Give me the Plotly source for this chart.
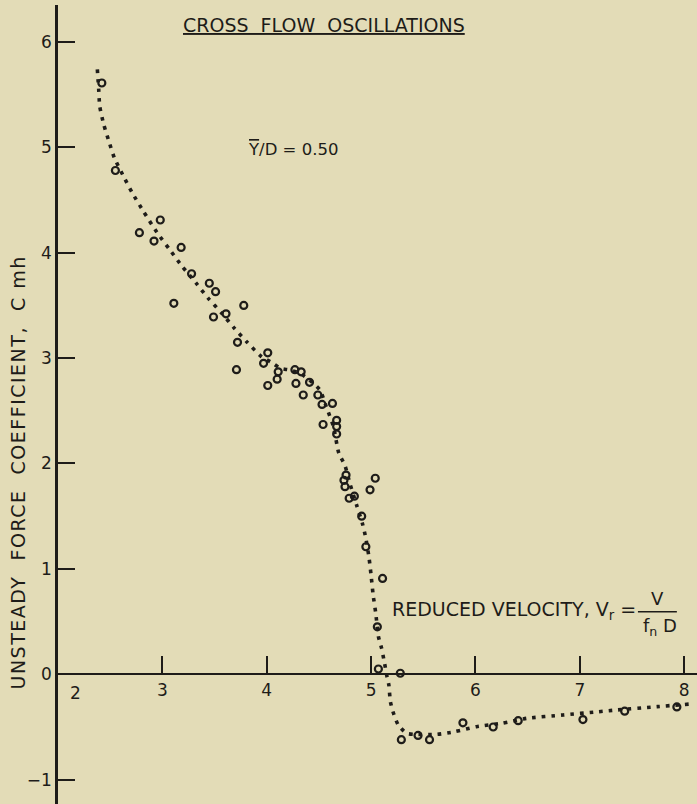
import plotly.graph_objects as go

# Observed data (open circles)
x_obs = [2.42, 2.55, 2.78, 2.92, 2.98, 3.11, 3.18, 3.28, 3.45, 3.51, 3.49, 3.61, 3.78, 3.72, 3.71,
         4.01, 3.97, 4.01, 4.11, 4.10, 4.27, 4.33, 4.28, 4.41, 4.35, 4.49, 4.53, 4.63, 4.54, 4.67,
         4.67, 4.67, 4.76, 4.74, 4.75, 4.79, 4.84, 5.04, 4.99, 4.91, 4.95, 5.11, 5.06, 5.07, 5.28,
         5.29, 5.45, 5.56, 5.88, 6.17, 6.41, 7.03, 7.43, 7.93]
y_obs = [5.61, 4.78, 4.19, 4.11, 4.31, 3.52, 4.05, 3.80, 3.71, 3.63, 3.39, 3.42, 3.50, 3.15, 2.89,
         3.05, 2.95, 2.74, 2.87, 2.80, 2.89, 2.87, 2.76, 2.77, 2.65, 2.65, 2.56, 2.57, 2.37, 2.41,
         2.35, 2.28, 1.89, 1.84, 1.78, 1.67, 1.69, 1.86, 1.75, 1.50, 1.21, 0.91, 0.45, 0.05, 0.01,
         -0.62, -0.58, -0.62, -0.46, -0.50, -0.44, -0.43, -0.35, -0.31]

# Faired (dotted) curve
x_fit = [2.377, 2.39, 2.40, 2.44, 2.49, 2.54, 2.62, 2.71, 2.82, 2.95, 3.07, 3.19, 3.32, 3.44, 3.57,
         3.69, 3.81, 3.95, 4.05, 4.13, 4.22, 4.32, 4.41, 4.51, 4.57, 4.64, 4.69, 4.75, 4.80, 4.86,
         4.92, 4.95, 4.98, 5.00, 5.02, 5.045, 5.07, 5.10, 5.13, 5.15, 5.17, 5.185, 5.21, 5.26, 5.34,
         5.42, 5.63, 5.80, 6.01, 6.25, 6.49, 6.84, 7.18, 7.35, 7.74, 8.06]
y_fit = [5.74, 5.55, 5.39, 5.21, 5.05, 4.90, 4.74, 4.57, 4.39, 4.19, 4.03, 3.87, 3.715, 3.567, 3.425,
         3.283, 3.153, 3.013, 2.956, 2.903, 2.887, 2.856, 2.792, 2.697, 2.54, 2.35, 2.10, 1.98, 1.80, 1.61,
         1.42, 1.29, 1.11, 0.94, 0.75, 0.578, 0.36, 0.25, 0.10, -0.01, -0.10, -0.26, -0.355, -0.48, -0.56,
         -0.57, -0.57, -0.545, -0.497, -0.465, -0.418, -0.386, -0.355, -0.339, -0.307, -0.282]

x_ticks = [3, 4, 5, 6, 7, 8]
y_ticks = [-1, 0, 1, 2, 3, 4, 5, 6]

INK = "#1e1c19"
BG = "#e3dcb7"
FONT = "DejaVu Sans"
NB = "\u00a0"

fig = go.Figure()
fig.add_trace(go.Scatter(
    x=x_fit, y=y_fit, mode="lines",
    line=dict(color=INK, width=3.6, dash="3.6px,6px", shape="spline", smoothing=0.6),
    hoverinfo="skip"))
fig.add_trace(go.Scatter(
    x=x_obs, y=y_obs, mode="markers",
    marker=dict(symbol="circle-open", size=7, color=INK, line=dict(width=2.2, color=INK))))

y_lo, y_hi = -1.2306, 6.35
fig.update_layout(
    width=697, height=804,
    margin=dict(l=58, r=0, t=5, b=0),
    paper_bgcolor=BG, plot_bgcolor=BG,
    showlegend=False,
    font=dict(family=FONT, color=INK, size=17),
    xaxis=dict(range=[2, 8.123], showgrid=False, zeroline=False,
               showline=True, linecolor=INK, linewidth=2,
               anchor="free", position=(0 - y_lo) / (y_hi - y_lo),
               ticks="inside", ticklen=17, tickwidth=2, tickcolor=INK,
               tickvals=x_ticks, tickfont=dict(size=17, family=FONT, color=INK)),
    yaxis=dict(range=[y_lo, y_hi], showgrid=False, zeroline=False,
               showline=True, linecolor=INK, linewidth=2.5,
               ticks="inside", ticklen=17, tickwidth=2, tickcolor=INK,
               tickvals=y_ticks, tickfont=dict(size=17, family=FONT, color=INK)),
)

annos = [
    dict(x=4.547, y=6.16, xref="x", yref="y",
         text="<u>CROSS" + NB * 2 + "FLOW" + NB * 2 + "OSCILLATIONS</u>",
         font=dict(size=19), xanchor="center", yanchor="middle", showarrow=False),
    dict(x=3.805, y=4.977, xref="x", yref="y",
         text='<span style="text-decoration:overline">Y</span>/D = 0.50',
         font=dict(size=16.5), xanchor="left", yanchor="middle", showarrow=False),
    dict(x=5.18, y=0.607, xref="x", yref="y",
         text="REDUCED" + NB + "VELOCITY," + NB + "V<sub>r</sub> =",
         font=dict(size=19), xanchor="left", yanchor="middle", showarrow=False),
    dict(x=7.74, y=0.72, xref="x", yref="y", text="V",
         font=dict(size=18), xanchor="center", yanchor="middle", showarrow=False),
    dict(x=7.77, y=0.45, xref="x", yref="y", text="f<sub>n</sub> D",
         font=dict(size=18), xanchor="center", yanchor="middle", showarrow=False),
    dict(x=-0.0625, y=1.915, xref="paper", yref="y", textangle=-90,
         text='<span style="letter-spacing:1.5px">UNSTEADY' + NB * 2 + "FORCE" + NB * 2
              + "COEFFICIENT," + NB * 2 + "C" + NB + "mh</span>",
         font=dict(size=19), xanchor="center", yanchor="middle", showarrow=False),
    dict(x=2, y=0, xref="x", yref="y", text="2", xshift=17, yshift=-18.5,
         font=dict(size=17), xanchor="center", yanchor="middle", showarrow=False),
]
fig.update_layout(annotations=annos)
fig.add_shape(type="line", xref="x", yref="y", x0=7.557, x1=7.93, y0=0.594, y1=0.594,
              line=dict(color=INK, width=1.5))

fig.write_html("out.html")
